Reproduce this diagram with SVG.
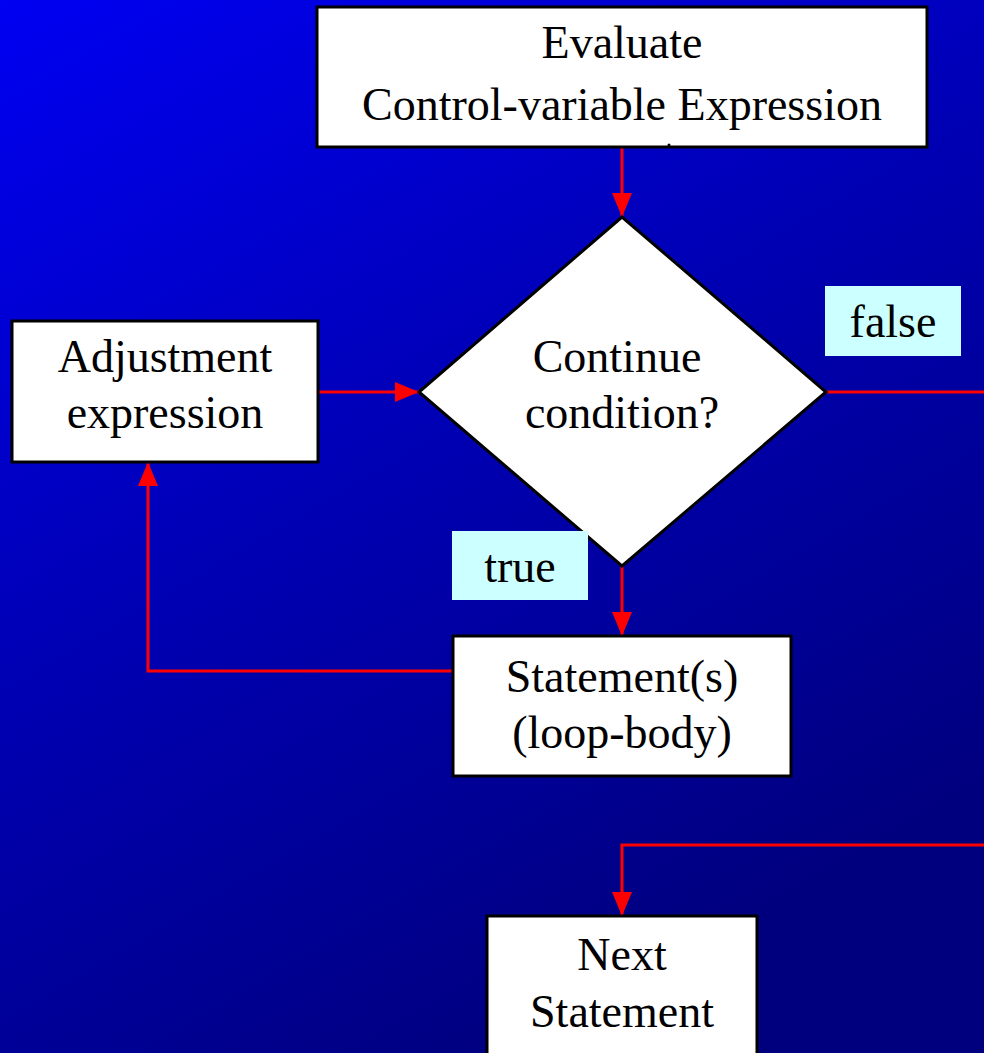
<svg xmlns="http://www.w3.org/2000/svg" width="984" height="1053" viewBox="0 0 984 1053">
  <defs>
    <linearGradient id="bg" x1="0" y1="0" x2="0.55" y2="1">
      <stop offset="0" stop-color="#0000F2"/>
      <stop offset="0.5" stop-color="#0000B4"/>
      <stop offset="1" stop-color="#00007E"/>
    </linearGradient>
    <marker id="arrow" viewBox="0 0 24 20" refX="24" refY="10" markerWidth="24" markerHeight="20" markerUnits="userSpaceOnUse" orient="auto">
      <path d="M0,0 L24,10 L0,20 Z" fill="#FF0000"/>
    </marker>
    <style>
      .box { fill: #FFFFFF; stroke: #000000; stroke-width: 3; }
      .tag { fill: #CCFFFF; }
      .lbl { font-family: "Liberation Serif", "Times New Roman", serif; font-size: 46px; fill: #000000; text-anchor: middle; }
      .wire { fill: none; stroke: #FF0000; stroke-width: 3; }
    </style>
  </defs>

  <rect x="0" y="0" width="984" height="1053" fill="url(#bg)"/>

  <!-- connectors -->
  <g id="connectors">
    <path class="wire" d="M622,147 L622,217" marker-end="url(#arrow)"/>
    <path class="wire" d="M318,392 L419,392" marker-end="url(#arrow)"/>
    <path class="wire" d="M826,392 L984,392"/>
    <path class="wire" d="M622,566 L622,636" marker-end="url(#arrow)"/>
    <path class="wire" d="M453,671 L148,671 L148,462" marker-end="url(#arrow)"/>
    <path class="wire" d="M984,845 L622,845 L622,916" marker-end="url(#arrow)"/>
  </g>

  <g id="evaluate">
    <rect class="box" x="317" y="7" width="610" height="140"/>
    <text class="lbl" x="622" y="58">Evaluate</text>
    <text class="lbl" x="622" y="120">Control-variable Expression</text>
    <circle cx="669" cy="145" r="1.5" fill="#000000"/>
  </g>

  <g id="condition">
    <polygon class="box" points="622,217 826,392 622,566 419,392"/>
    <text class="lbl" x="617" y="372">Continue</text>
    <text class="lbl" x="622" y="428">condition?</text>
  </g>

  <g id="adjustment">
    <rect class="box" x="12" y="321" width="306" height="141"/>
    <text class="lbl" x="165" y="372">Adjustment</text>
    <text class="lbl" x="165" y="428">expression</text>
  </g>

  <g id="label-false">
    <rect class="tag" x="825" y="286" width="136" height="70"/>
    <text class="lbl" x="893" y="337">false</text>
  </g>

  <g id="label-true">
    <rect class="tag" x="452" y="531" width="136" height="69"/>
    <text class="lbl" x="520" y="582">true</text>
  </g>

  <g id="body">
    <rect class="box" x="453" y="636" width="338" height="140"/>
    <text class="lbl" x="622" y="692">Statement(s)</text>
    <text class="lbl" x="622" y="748">(loop-body)</text>
  </g>

  <g id="next">
    <rect class="box" x="487" y="916" width="270" height="150"/>
    <text class="lbl" x="622" y="970">Next</text>
    <text class="lbl" x="622" y="1027">Statement</text>
  </g>
</svg>
